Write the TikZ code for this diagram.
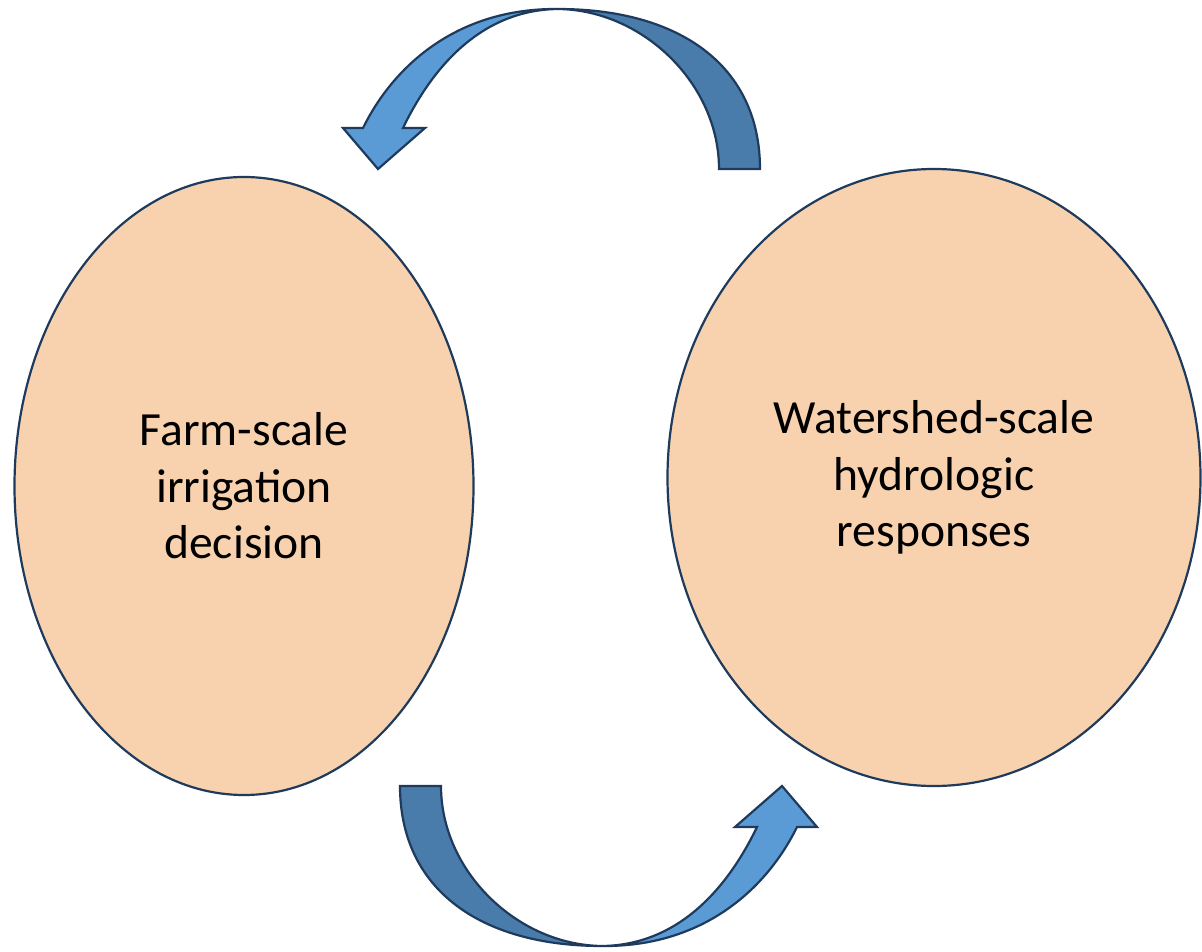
\documentclass[tikz,border=0pt]{standalone}
\usepackage{fontspec}
\setmainfont{Carlito}
\usetikzlibrary{shapes.geometric}
\definecolor{peach}{RGB}{248,210,174}
\definecolor{edgeblue}{RGB}{30,58,92}
\definecolor{lightblue}{RGB}{91,155,213}
\definecolor{darkblue}{RGB}{73,124,170}
\tikzset{
  bubble/.style={ellipse, draw=edgeblue, fill=peach, line width=2.2pt, inner sep=0pt,
    align=center, font=\fontsize{47.6}{56.5}\selectfont, text=black},
  arrowlight/.style={fill=lightblue, draw=edgeblue, line width=2.2pt, line join=miter},
  arrowdark/.style={fill=darkblue, draw=edgeblue, line width=2.2pt, line join=miter},
}
\newcommand\myCurvedArrow{%
  \path[arrowdark] (719,169) -- (760,169) .. controls (760,66) and (680,9) .. (558,9)
      .. controls (643,10) and (719,84) .. (719,169) -- cycle;
  \path[arrowlight] (378,169) -- (425,128) -- (403,128)
      .. controls (430,72) and (478,10) .. (558,9)
      .. controls (458,8) and (394,65) .. (363,128) -- (343,128) -- cycle;
}
\begin{document}
\begin{tikzpicture}[x=1pt,y=-1pt]
\useasboundingbox (0,0) rectangle (1202,952);
\node[bubble, minimum width=459pt, minimum height=618pt] (farm) at (244,486)
  {Farm-scale\\irrigation\\decision};
\node[bubble, minimum width=533pt, minimum height=617pt] (shed) at (934,477.5)
  {Watershed-scale\\hydrologic\\responses};
\begin{scope}
  \myCurvedArrow
\end{scope}
\begin{scope}[rotate around={180:(580,477.5)}]
  \myCurvedArrow
\end{scope}
\end{tikzpicture}
\end{document}
